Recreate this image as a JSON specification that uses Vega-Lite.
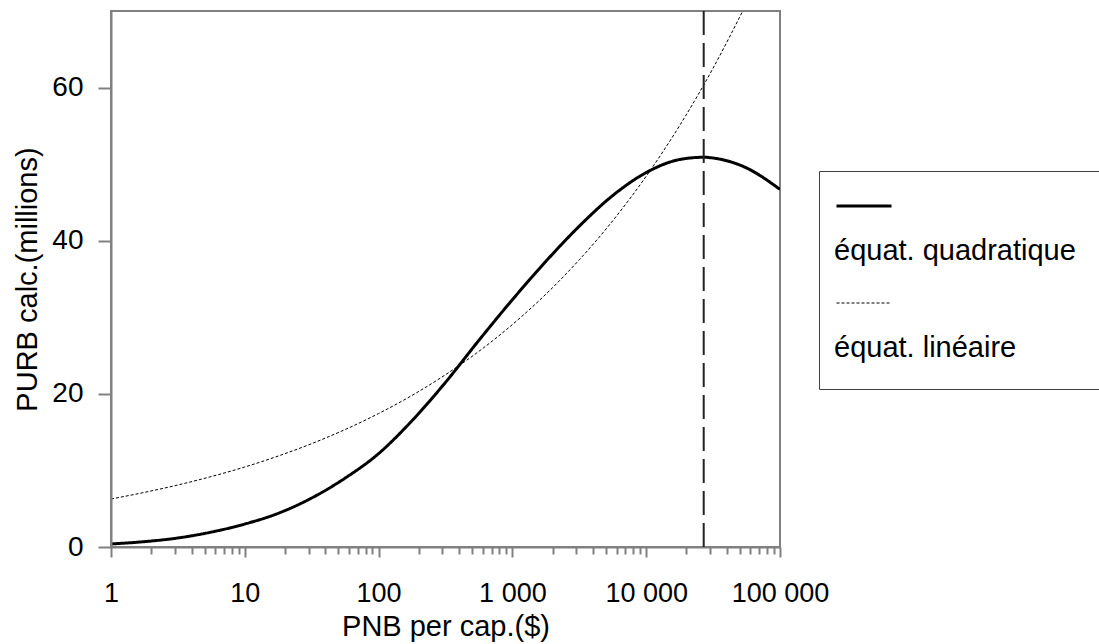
{
  "$schema": "https://vega.github.io/schema/vega-lite/v6.json",
  "width": 669,
  "height": 536,
  "autosize": {"type": "none"},
  "padding": {"left": 111, "top": 11, "right": 319, "bottom": 97},
  "background": "white",
  "config": {
    "font": "Liberation Sans",
    "view": {"stroke": "#808080", "strokeWidth": 2},
    "axis": {
      "grid": false,
      "domainColor": "#808080",
      "domainWidth": 2,
      "ticks": true,
      "tickColor": "#808080",
      "tickWidth": 2,
      "labelColor": "black",
      "titleColor": "black",
      "labelFont": "Liberation Sans",
      "titleFont": "Liberation Sans",
      "titleFontWeight": "normal",
      "labelFontSize": 27,
      "titleFontSize": 29
    },
    "legend": {
      "orient": "none",
      "legendX": 708,
      "legendY": 160,
      "strokeColor": "#404040",
      "padding": 6,
      "symbolType": "stroke",
      "symbolSize": 3025,
      "symbolOffset": 10,
      "symbolStrokeColor": "black",
      "labelFont": "Liberation Sans",
      "labelFontSize": 29,
      "labelColor": "black",
      "labelLineHeight": 29,
      "labelBaseline": "top",
      "labelOffset": -59,
      "labelLimit": 800,
      "rowPadding": 9,
      "titleOrient": "bottom",
      "titleFontSize": 12,
      "titlePadding": 9
    }
  },
  "datasets": {
    "curves": [
      {"pnb": 1, "purb": 0.40, "serie": "équat. quadratique"},
      {"pnb": 1.778, "purb": 0.70, "serie": "équat. quadratique"},
      {"pnb": 3.162, "purb": 1.18, "serie": "équat. quadratique"},
      {"pnb": 5.623, "purb": 1.95, "serie": "équat. quadratique"},
      {"pnb": 10, "purb": 3.0, "serie": "équat. quadratique"},
      {"pnb": 17.78, "purb": 4.4, "serie": "équat. quadratique"},
      {"pnb": 31.62, "purb": 6.4, "serie": "équat. quadratique"},
      {"pnb": 56.23, "purb": 9.0, "serie": "équat. quadratique"},
      {"pnb": 100, "purb": 12.2, "serie": "équat. quadratique"},
      {"pnb": 177.8, "purb": 16.5, "serie": "équat. quadratique"},
      {"pnb": 316.2, "purb": 21.5, "serie": "équat. quadratique"},
      {"pnb": 562.3, "purb": 27.0, "serie": "équat. quadratique"},
      {"pnb": 1000, "purb": 32.3, "serie": "équat. quadratique"},
      {"pnb": 1778, "purb": 37.3, "serie": "équat. quadratique"},
      {"pnb": 3162, "purb": 41.9, "serie": "équat. quadratique"},
      {"pnb": 5623, "purb": 45.9, "serie": "équat. quadratique"},
      {"pnb": 10000, "purb": 48.9, "serie": "équat. quadratique"},
      {"pnb": 17783, "purb": 50.6, "serie": "équat. quadratique"},
      {"pnb": 26900, "purb": 50.9, "serie": "équat. quadratique"},
      {"pnb": 31623, "purb": 50.8, "serie": "équat. quadratique"},
      {"pnb": 56234, "purb": 49.5, "serie": "équat. quadratique"},
      {"pnb": 100000, "purb": 46.7, "serie": "équat. quadratique"},
      {"pnb": 1, "purb": 6.27, "serie": "équat. linéaire"},
      {"pnb": 1.778, "purb": 7.13, "serie": "équat. linéaire"},
      {"pnb": 3.162, "purb": 8.10, "serie": "équat. linéaire"},
      {"pnb": 5.623, "purb": 9.20, "serie": "équat. linéaire"},
      {"pnb": 10, "purb": 10.45, "serie": "équat. linéaire"},
      {"pnb": 17.78, "purb": 11.88, "serie": "équat. linéaire"},
      {"pnb": 31.62, "purb": 13.50, "serie": "équat. linéaire"},
      {"pnb": 56.23, "purb": 15.34, "serie": "équat. linéaire"},
      {"pnb": 100, "purb": 17.43, "serie": "équat. linéaire"},
      {"pnb": 177.8, "purb": 19.80, "serie": "équat. linéaire"},
      {"pnb": 316.2, "purb": 22.50, "serie": "équat. linéaire"},
      {"pnb": 562.3, "purb": 25.56, "serie": "équat. linéaire"},
      {"pnb": 1000, "purb": 29.05, "serie": "équat. linéaire"},
      {"pnb": 1778, "purb": 33.01, "serie": "équat. linéaire"},
      {"pnb": 3162, "purb": 37.51, "serie": "équat. linéaire"},
      {"pnb": 5623, "purb": 42.61, "serie": "équat. linéaire"},
      {"pnb": 10000, "purb": 48.42, "serie": "équat. linéaire"},
      {"pnb": 17783, "purb": 55.04, "serie": "équat. linéaire"},
      {"pnb": 31623, "purb": 62.54, "serie": "équat. linéaire"},
      {"pnb": 56234, "purb": 71.0, "serie": "équat. linéaire"}
    ],
    "marker": [{"pnb": 26900}]
  },
  "layer": [
    {
      "data": {"name": "curves"},
      "mark": {"type": "line", "clip": true, "interpolate": "monotone", "color": "black"},
      "encoding": {
        "x": {
          "field": "pnb",
          "type": "quantitative",
          "title": "PNB per cap.($)",
          "scale": {"type": "log", "domain": [1, 100000], "nice": false},
          "axis": {
            "values": [1, 2, 3, 4, 5, 6, 7, 8, 9, 10, 20, 30, 40, 50, 60, 70, 80, 90, 100, 200, 300, 400, 500, 600, 700, 800, 900, 1000, 2000, 3000, 4000, 5000, 6000, 7000, 8000, 9000, 10000, 20000, 30000, 40000, 50000, 60000, 70000, 80000, 90000, 100000],
            "labelExpr": "datum.value == 1 ? '1' : datum.value == 10 ? '10' : datum.value == 100 ? '100' : datum.value == 1000 ? '1 000' : datum.value == 10000 ? '10 000' : datum.value == 100000 ? '100 000' : ''",
            "tickSize": {"condition": {"test": "indexof([1, 10, 100, 1000, 10000, 100000], datum.value) >= 0", "value": 10}, "value": 7},
            "labelPadding": 23,
            "labelOverlap": false,
            "labelFlush": false,
            "titlePadding": 6
          }
        },
        "y": {
          "field": "purb",
          "type": "quantitative",
          "title": "PURB calc.(millions)",
          "scale": {"domain": [0, 70], "nice": false, "zero": false},
          "axis": {
            "values": [0, 20, 40, 60],
            "ticks": true,
            "tickSize": 13,
            "tickColor": "#808080",
            "tickWidth": 2,
            "labelPadding": 15,
            "labelFontSize": 28,
            "titlePadding": 9,
            "zindex": 1
          }
        },
        "strokeDash": {
          "field": "serie",
          "type": "nominal",
          "scale": {"domain": ["équat. quadratique", "équat. linéaire"], "range": [[1, 0], [3, 2]]},
          "legend": {"title": "\u00a0\u200b", "labelExpr": "['\u200b', datum.label + '\u00a0\u00a0\u00a0\u00a0\u00a0\u00a0\u00a0\u00a0\u00a0\u00a0\u200b']"}
        },
        "strokeWidth": {
          "field": "serie",
          "type": "nominal",
          "scale": {"domain": ["équat. quadratique", "équat. linéaire"], "range": [3, 1]},
          "legend": {"title": "\u00a0\u200b", "labelExpr": "['\u200b', datum.label + '\u00a0\u00a0\u00a0\u00a0\u00a0\u00a0\u00a0\u00a0\u00a0\u00a0\u200b']"}
        }
      }
    },
    {
      "data": {"name": "marker"},
      "mark": {"type": "rule", "color": "#222222", "strokeWidth": 2, "strokeDash": [24, 8]},
      "encoding": {
        "x": {"field": "pnb", "type": "quantitative"}
      }
    }
  ]
}
